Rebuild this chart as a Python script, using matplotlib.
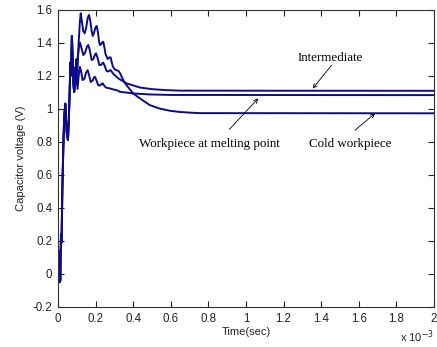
import matplotlib
matplotlib.use("Agg")
import matplotlib.pyplot as plt
from matplotlib.ticker import FuncFormatter, FixedLocator

# ---- data (time in ms, voltage in V) ----
t_start = [0.000, 0.003, 0.005, 0.008, 0.010, 0.012, 0.016, 0.019, 0.023, 0.028,
           0.033, 0.039, 0.043, 0.047, 0.053, 0.058, 0.062, 0.066, 0.069, 0.074,
           0.078, 0.082, 0.086]
v_start = [0.17, -0.02, 0.14, -0.05, 0.02, -0.04, 0.24, 0.19, 0.50, 0.75,
           0.95, 1.03, 0.93, 0.85, 0.81, 0.95, 1.10, 1.28, 1.20, 1.44,
           1.30, 1.15, 1.10]

t_cold = [0.092, 0.098, 0.103, 0.110, 0.116, 0.121, 0.127, 0.134, 0.142, 0.150,
          0.158, 0.165, 0.172, 0.179, 0.185, 0.192, 0.199, 0.206, 0.213, 0.218,
          0.223, 0.229, 0.235, 0.241, 0.247, 0.253, 0.259, 0.265, 0.273, 0.280,
          0.286, 0.292, 0.298, 0.305, 0.313, 0.321, 0.330, 0.340, 0.356, 0.380,
          0.400, 0.436, 0.489, 0.543, 0.596, 0.649, 0.702, 0.755, 2.000]
v_cold = [1.20, 1.30, 1.22, 1.40, 1.52, 1.577, 1.53, 1.47, 1.456, 1.49,
          1.55, 1.567, 1.53, 1.47, 1.44, 1.46, 1.49, 1.50, 1.46, 1.41,
          1.385, 1.39, 1.40, 1.405, 1.37, 1.33, 1.314, 1.30, 1.31, 1.31,
          1.28, 1.255, 1.243, 1.235, 1.232, 1.229, 1.215, 1.19, 1.155, 1.12,
          1.092, 1.062, 1.021, 1.000, 0.987, 0.980, 0.976, 0.973, 0.972]

t_inter = [0.092, 0.098, 0.104, 0.111, 0.117, 0.124, 0.135, 0.145, 0.154, 0.161,
           0.168, 0.179, 0.188, 0.196, 0.202, 0.210, 0.220, 0.230, 0.236, 0.241,
           0.248, 0.259, 0.268, 0.275, 0.280, 0.295, 0.321, 0.365, 0.436, 0.500,
           0.578, 0.650, 2.000]
v_inter = [1.25, 1.18, 1.30, 1.37, 1.40, 1.37, 1.324, 1.34, 1.375, 1.385,
           1.36, 1.294, 1.30, 1.325, 1.335, 1.31, 1.264, 1.265, 1.275, 1.278,
           1.26, 1.227, 1.225, 1.232, 1.233, 1.21, 1.183, 1.153, 1.128, 1.118,
           1.112, 1.109, 1.108]

t_melt = [0.092, 0.098, 0.104, 0.110, 0.117, 0.124, 0.131, 0.140, 0.150, 0.158,
          0.166, 0.174, 0.184, 0.192, 0.197, 0.205, 0.214, 0.224, 0.232, 0.238,
          0.245, 0.255, 0.265, 0.277, 0.295, 0.312, 0.330, 0.400, 0.489, 0.600,
          2.000]
v_melt = [1.15, 1.22, 1.12, 1.20, 1.253, 1.22, 1.173, 1.18, 1.22, 1.233,
          1.20, 1.162, 1.17, 1.19, 1.193, 1.17, 1.142, 1.14, 1.15, 1.153,
          1.14, 1.128, 1.125, 1.122, 1.116, 1.112, 1.102, 1.092, 1.086, 1.083,
          1.082]

x_ticks = [0.0, 0.2, 0.4, 0.6, 0.8, 1.0, 1.2, 1.4, 1.6, 1.8, 2.0]
y_ticks = [-0.2, 0.0, 0.2, 0.4, 0.6, 0.8, 1.0, 1.2, 1.4, 1.6]

labels = ["Intermediate", "Workpiece at melting point", "Cold workpiece"]
label_pos = [(1.447, 1.306), (0.803, 0.785), (1.556, 0.789)]
arrow_tail = [(1.456, 1.264), (0.911, 0.874), (1.580, 0.870)]
arrow_tip = [(1.355, 1.122), (1.065, 1.062), (1.686, 0.971)]

# ---- figure ----
fig = plt.figure(figsize=(4.37, 3.47), dpi=100)
ax = fig.add_axes([0.1327, 0.1153, 0.8604, 0.8573])

line_color = "#0c0c8a"
for tt, vv in [(t_cold, v_cold), (t_inter, v_inter), (t_melt, v_melt)]:
    ts = [x * 1e-3 for x in t_start + tt]
    vs = v_start + vv
    ax.plot(ts, vs, color=line_color, lw=1.4, solid_joinstyle="round")

ax.set_xlim(0, 2e-3)
ax.set_ylim(-0.2, 1.6)
ax.xaxis.set_major_locator(FixedLocator([x * 1e-3 for x in x_ticks]))
ax.yaxis.set_major_locator(FixedLocator(y_ticks))
ax.xaxis.set_major_formatter(FuncFormatter(lambda v, p: "%g" % round(v * 1e3, 3)))
ax.yaxis.set_major_formatter(FuncFormatter(lambda v, p: "%g" % round(v, 3)))

tick_font = "Liberation Sans"
ax.tick_params(direction="in", length=4, width=0.8, top=True, right=True,
               labelsize=8.3, colors="#222222", pad=4)
for lab in ax.get_xticklabels() + ax.get_yticklabels():
    lab.set_family(tick_font)
for s in ax.spines.values():
    s.set_linewidth(0.8)
    s.set_color("#333333")

ax.set_xlabel("Time(sec)", fontsize=8, family=tick_font, labelpad=2, color="#222222")
ax.set_ylabel("Capacitor voltage (V)", fontsize=8, family=tick_font, labelpad=5, color="#222222")

ax.text(1.0, -0.1, r"x 10$^{-3}$", transform=ax.transAxes, ha="right", va="center",
        fontsize=8, family=tick_font, color="#222222")

for lab, (lx, ly), (ax0, ay0), (ax1, ay1) in zip(labels, label_pos, arrow_tail, arrow_tip):
    ax.text(lx * 1e-3, ly, lab, ha="center", va="center", fontsize=9.4,
            family="Liberation Serif", color="black")
    ax.annotate("", xy=(ax1 * 1e-3, ay1), xytext=(ax0 * 1e-3, ay0),
                arrowprops=dict(arrowstyle="->", lw=0.6, color="black",
                                shrinkA=0, shrinkB=0, mutation_scale=7))

fig.savefig("out.png", dpi=100)
